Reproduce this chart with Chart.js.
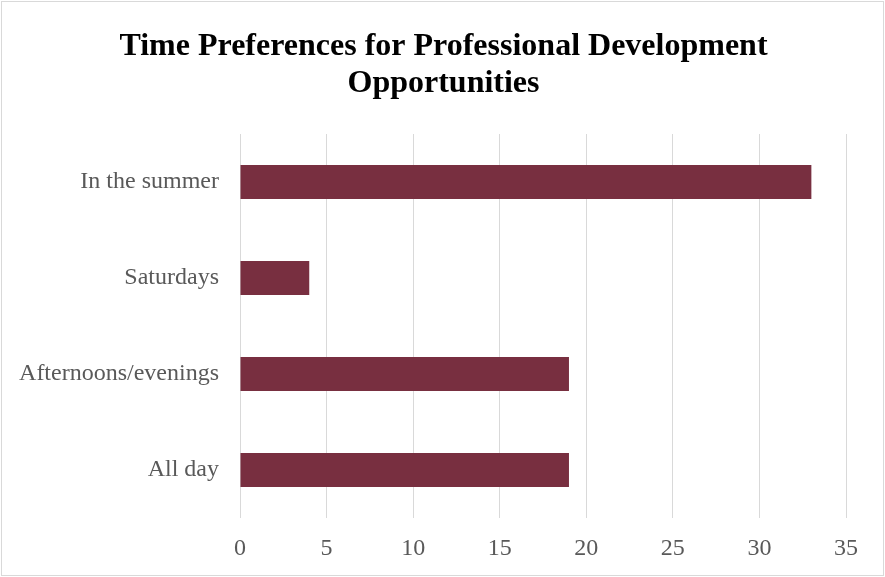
<!DOCTYPE html>
<html>
<head>
<meta charset="utf-8">
<script src="https://cdn.jsdelivr.net/npm/chart.js@4"></script>
<style>
  html, body { margin: 0; padding: 0; background: #ffffff; }
  #wrap { position: relative; width: 885px; height: 577px; }
  #frame { position: absolute; left: 1px; top: 1px; width: 881px; height: 573px; border: 1px solid #d9d9d9; pointer-events: none; }
  canvas { position: absolute; left: 0; top: 0; }
</style>
</head>
<body>
<div id="wrap">
  <canvas id="c" width="885" height="577"></canvas>
  <div id="frame"></div>
</div>
<script>
const titleLines = ['Time Preferences for Professional Development', 'Opportunities'];
const categories = ['In the summer', 'Saturdays', 'Afternoons/evenings', 'All day'];
const values = [33, 4, 19, 19];
const xTicks = [0, 5, 10, 15, 20, 25, 30, 35];

const serif = "'Liberation Serif', 'Times New Roman', serif";

const fullWidthTitle = {
  id: 'fullWidthTitle',
  afterDraw(chart) {
    const ctx = chart.ctx;
    ctx.save();
    ctx.fillStyle = '#000000';
    ctx.font = 'bold 32px ' + serif;
    ctx.textAlign = 'center';
    ctx.textBaseline = 'middle';
    const cx = chart.width / 2 + 1;
    titleLines.forEach((line, i) => ctx.fillText(line, cx, 47 + i * 37));
    ctx.restore();
  }
};

new Chart(document.getElementById('c'), {
  type: 'bar',
  data: {
    labels: categories,
    datasets: [{
      data: values,
      backgroundColor: '#782F40',
      borderWidth: 0,
      categoryPercentage: 1,
      barPercentage: 0.354
    }]
  },
  plugins: [fullWidthTitle],
  options: {
    indexAxis: 'y',
    responsive: false,
    animation: false,
    layout: { padding: { left: 0, right: 39, top: 134, bottom: 0 } },
    plugins: {
      legend: { display: false },
      tooltip: { enabled: false },
      title: { display: false }
    },
    scales: {
      x: {
        min: xTicks[0],
        max: xTicks[xTicks.length - 1],
        afterBuildTicks: (axis) => { axis.ticks = xTicks.map(v => ({ value: v })); },
        afterFit: (axis) => { axis.height = 59; },
        grid: { color: '#d9d9d9', lineWidth: 1, drawTicks: false },
        border: { display: false },
        ticks: { color: '#595959', font: { family: serif, size: 24 }, padding: 16 }
      },
      y: {
        afterFit: (axis) => { axis.width = 240; },
        grid: { display: false, drawTicks: false },
        border: { display: false },
        ticks: { color: '#595959', font: { family: serif, size: 24 }, padding: 21 }
      }
    }
  }
});
</script>
</body>
</html>
